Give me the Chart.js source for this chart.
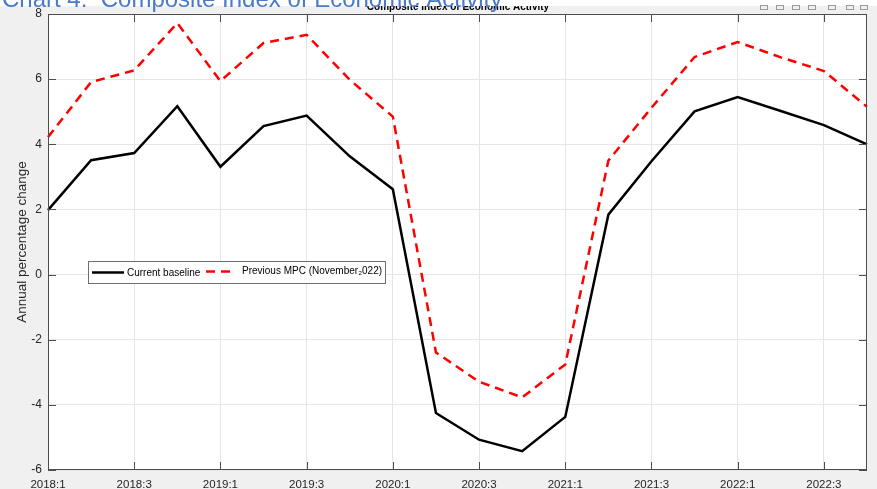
<!DOCTYPE html>
<html>
<head>
<meta charset="utf-8">
<script src="https://cdn.jsdelivr.net/npm/chart.js@4/dist/chart.umd.min.js"></script>
<style>
  html, body { margin: 0; padding: 0; background: #ffffff; overflow: hidden; }
  #wrap { position: relative; width: 877px; height: 489px; }
  #cia { display: block; }
</style>
</head>
<body>
<div id="wrap"><canvas id="cia" width="877" height="489"></canvas></div>
<script>
// quarters shown on the x axis
var quarters = [
	"2018:1", "2018:2", "2018:3", "2018:4",
	"2019:1", "2019:2", "2019:3", "2019:4",
	"2020:1", "2020:2", "2020:3", "2020:4",
	"2021:1", "2021:2", "2021:3", "2021:4",
	"2022:1", "2022:2", "2022:3", "2022:4"
];

// annual percentage change
var currentBaseline = [
	1.98, 3.51, 3.73, 5.17,
	3.31, 4.56, 4.88, 3.63,
	2.62, -4.25, -5.07, -5.42,
	-4.37, 1.84, 3.48, 5.01,
	5.45, 5.02, 4.59, 4.00
];
var previousMpc = [
	4.22, 5.91, 6.27, 7.72,
	5.94, 7.11, 7.36, 5.98,
	4.85, -2.39, -3.29, -3.77,
	-2.76, 3.50, 5.12, 6.68,
	7.14, 6.67, 6.25, 5.15
];

var yTicks = [-6, -4, -2, 0, 2, 4, 6, 8];

var seriesNames = ["Current baseline", "Previous MPC (November\u2082022)"];
var chartTitle = "Chart 4:  Composite Index of Economic Activity";
var figureTitle = "Composite Index of Economic Activity";
var yTitle = "Annual percentage change";

var FONT = "'Liberation Sans', Arial, Helvetica, sans-serif";

// background, cut-off titles and the y axis label
var backdrop = {
	id: "backdrop",
	beforeDraw: function (chart) {
		var c = chart.ctx, a = chart.chartArea;
		c.save();
		c.fillStyle = "#f0f0f0";
		c.fillRect(0, 0, chart.width, chart.height);

		// figure title, top half hidden
		c.fillStyle = "#000";
		c.font = "bold 10px " + FONT;
		c.textAlign = "center";
		c.textBaseline = "alphabetic";
		c.fillText(figureTitle, 458, 9.5);

		c.fillStyle = "#ffffff";
		c.fillRect(0, 0, chart.width, 6);

		// toolbar glyphs
		c.strokeStyle = "#9a9a9a";
		c.lineWidth = 1;
		[760, 776, 792, 808, 828, 846, 860].forEach(function (x) {
			c.strokeRect(x + 0.5, 5.5, 7, 4);
		});

		// page caption, mostly cut off
		c.fillStyle = "#4a7ac8";
		c.font = "24px " + FONT;
		c.textAlign = "left";
		c.fillText(chartTitle, 2, 6.5);

		c.fillStyle = "#ffffff";
		c.fillRect(a.left, a.top, a.right - a.left, a.bottom - a.top);

		c.translate(22, (a.top + a.bottom) / 2);
		c.rotate(-Math.PI / 2);
		c.fillStyle = "#262626";
		c.font = "13.5px " + FONT;
		c.textAlign = "center";
		c.textBaseline = "middle";
		c.fillText(yTitle, 0, 0);
		c.restore();
	}
};

// box with inward ticks and the legend
var frame = {
	id: "frame",
	afterDraw: function (chart) {
		var c = chart.ctx, a = chart.chartArea;
		var xs = chart.scales.x, ys = chart.scales.y;
		var tl = 8;
		c.save();
		c.strokeStyle = "#4d4d4d";
		c.lineWidth = 1;
		c.strokeRect(Math.round(a.left) + 0.5, Math.round(a.top) + 0.5,
			Math.round(a.right - a.left) - 1, Math.round(a.bottom - a.top) - 1);
		c.beginPath();
		quarters.forEach(function (q, i) {
			if (i % 2) return;
			var px = Math.round(xs.getPixelForValue(i)) + 0.5;
			c.moveTo(px, a.bottom);
			c.lineTo(px, a.bottom - tl);
			c.moveTo(px, a.top);
			c.lineTo(px, a.top + tl);
		});
		yTicks.forEach(function (v) {
			var py = Math.round(ys.getPixelForValue(v)) + 0.5;
			c.moveTo(a.left, py);
			c.lineTo(a.left + tl, py);
			c.moveTo(a.right, py);
			c.lineTo(a.right - tl, py);
		});
		c.stroke();

		// legend
		var lx = 88, ly = 261, lw = 297, lh = 22;
		c.fillStyle = "#ffffff";
		c.fillRect(lx, ly, lw, lh);
		c.strokeStyle = "#6e6e6e";
		c.strokeRect(lx + 0.5, ly + 0.5, lw, lh);
		var ds = chart.data.datasets;
		var my = ly + 11.5;
		c.font = "10px " + FONT;
		c.textBaseline = "middle";
		c.textAlign = "left";

		c.strokeStyle = ds[0].borderColor;
		c.lineWidth = 2.5;
		c.setLineDash([]);
		c.beginPath();
		c.moveTo(92, my);
		c.lineTo(124, my);
		c.stroke();
		c.fillStyle = "#000";
		c.fillText(ds[0].label, 127, my + 1);

		c.strokeStyle = ds[1].borderColor;
		c.setLineDash(ds[1].borderDash);
		c.beginPath();
		c.moveTo(206, my - 1);
		c.lineTo(235, my - 1);
		c.stroke();
		c.setLineDash([]);
		c.fillText(ds[1].label, 242, my - 1);
		c.restore();
	}
};

var chart = new Chart(document.getElementById("cia"), {
	type: "line",
	data: {
		labels: quarters,
		datasets: [
			{
				label: seriesNames[0],
				data: currentBaseline,
				borderColor: "#000000",
				borderWidth: 2.5,
				pointRadius: 0,
				tension: 0,
				fill: false
			},
			{
				label: seriesNames[1],
				data: previousMpc,
				borderColor: "#ff0000",
				borderWidth: 2.5,
				borderDash: [9, 6],
				pointRadius: 0,
				tension: 0,
				fill: false
			}
		]
	},
	options: {
		responsive: false,
		animation: false,
		devicePixelRatio: 1,
		layout: { padding: { top: 14, right: 10, left: 0, bottom: 0 } },
		plugins: {
			legend: { display: false },
			tooltip: { enabled: false }
		},
		scales: {
			x: {
				type: "category",
				offset: false,
				afterFit: function (s) { s.height = 19; },
				grid: {
					color: function (ctx) { return ctx.index % 2 === 0 ? "#e6e6e6" : "rgba(0,0,0,0)"; },
					drawTicks: false
				},
				border: { display: false },
				ticks: {
					autoSkip: false,
					maxRotation: 0,
					padding: 8,
					color: "#262626",
					font: { family: FONT, size: 11.5 },
					callback: function (v, i) { return i % 2 === 0 ? quarters[i] : ""; }
				}
			},
			y: {
				min: -6,
				max: 8,
				afterFit: function (s) { s.width = 48; },
				afterBuildTicks: function (s) { s.ticks = yTicks.map(function (v) { return { value: v }; }); },
				grid: { color: "#e6e6e6", drawTicks: false },
				border: { display: false },
				ticks: {
					padding: 6,
					color: "#262626",
					font: { family: FONT, size: 12 }
				}
			}
		}
	},
	plugins: [backdrop, frame]
});
</script>
</body>
</html>
